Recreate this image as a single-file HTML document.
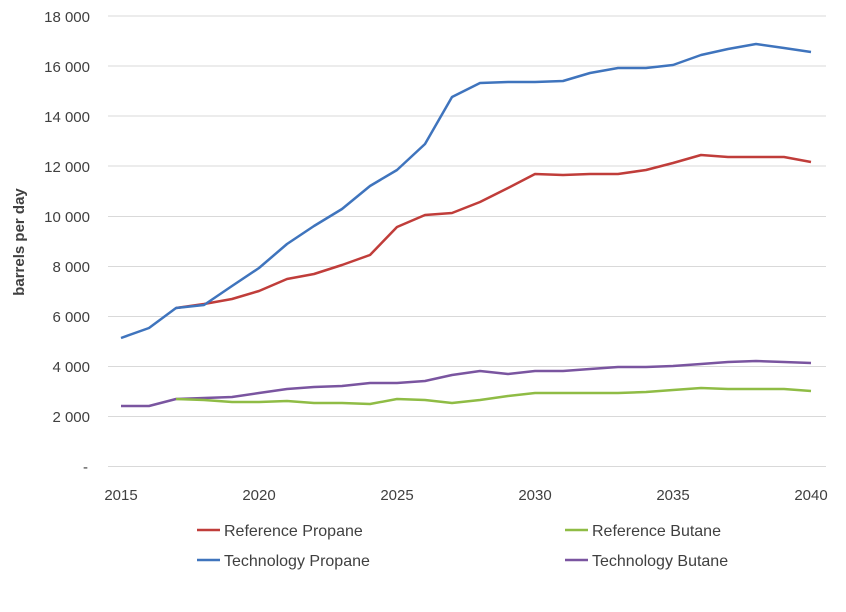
<!DOCTYPE html>
<html><head><meta charset="utf-8"><style>body{margin:0;background:#fff}svg{display:block}text{font-family:"Liberation Sans",sans-serif;fill:#404040}</style></head><body>
<svg width="846" height="612" xmlns="http://www.w3.org/2000/svg">
<g stroke="#d9d9d9" stroke-width="1">
<line x1="108" x2="826" y1="16" y2="16"/><line x1="108" x2="826" y1="66" y2="66"/><line x1="108" x2="826" y1="116" y2="116"/><line x1="108" x2="826" y1="166" y2="166"/><line x1="108" x2="826" y1="216.5" y2="216.5"/><line x1="108" x2="826" y1="266.5" y2="266.5"/><line x1="108" x2="826" y1="316.5" y2="316.5"/><line x1="108" x2="826" y1="366.5" y2="366.5"/><line x1="108" x2="826" y1="416.5" y2="416.5"/><line x1="108" x2="826" y1="466.5" y2="466.5"/>
</g>
<g font-size="15" text-anchor="end">
<text x="90" y="22">18 000</text><text x="90" y="72">16 000</text><text x="90" y="122">14 000</text><text x="90" y="172">12 000</text><text x="90" y="222">10 000</text><text x="90" y="272">8 000</text><text x="90" y="322">6 000</text><text x="90" y="372">4 000</text><text x="90" y="422">2 000</text><text x="88" y="472">-</text>
</g>
<g font-size="15" text-anchor="middle">
<text x="121" y="500">2015</text><text x="259" y="500">2020</text><text x="397" y="500">2025</text><text x="535" y="500">2030</text><text x="673" y="500">2035</text><text x="811" y="500">2040</text>
</g>
<text transform="translate(24,242) rotate(-90)" font-size="15" font-weight="bold" text-anchor="middle">barrels per day</text>
<g fill="none" stroke-width="2.5" stroke-linejoin="round">
<polyline stroke="#7a55a0" points="121,406 149,406 176,399 204,398 232,397 259,393 287,389 314,387 342,386 370,383 397,383 425,381 452,375 480,371 508,374 535,371 563,371 590,369 618,367 646,367 673,366 701,364 728,362 756,361 784,362 811,363"/>
<polyline stroke="#8fbc45" points="176,399 204,400 232,402 259,402 287,401 314,403 342,403 370,404 397,399 425,400 452,403 480,400 508,396 535,393 563,393 590,393 618,393 646,392 673,390 701,388 728,389 756,389 784,389 811,391"/>
<polyline stroke="#c03d3a" points="176,308 204,304 232,299 259,291 287,279 314,274 342,265 370,255 397,227 425,215 452,213 480,202 508,188 535,174 563,175 590,174 618,174 646,170 673,163 701,155 728,157 756,157 784,157 811,162"/>
<polyline stroke="#3f74bd" points="121,338 149,328 176,308 204,305 232,286 259,268 287,244 314,226 342,209 370,186 397,170 425,144 452,97 480,83 508,82 535,82 563,81 590,73 618,68 646,68 673,65 701,55 728,49 756,44 784,48 811,52"/>
</g>
<g stroke-width="2.5">
<line x1="197" x2="220" y1="530" y2="530" stroke="#c03d3a"/>
<line x1="565" x2="588" y1="530" y2="530" stroke="#8fbc45"/>
<line x1="197" x2="220" y1="560" y2="560" stroke="#3f74bd"/>
<line x1="565" x2="588" y1="560" y2="560" stroke="#7a55a0"/>
</g>
<g font-size="16">
<text x="224" y="536">Reference Propane</text><text x="592" y="536">Reference Butane</text>
<text x="224" y="566">Technology Propane</text><text x="592" y="566">Technology Butane</text>
</g>
</svg>
</body></html>
